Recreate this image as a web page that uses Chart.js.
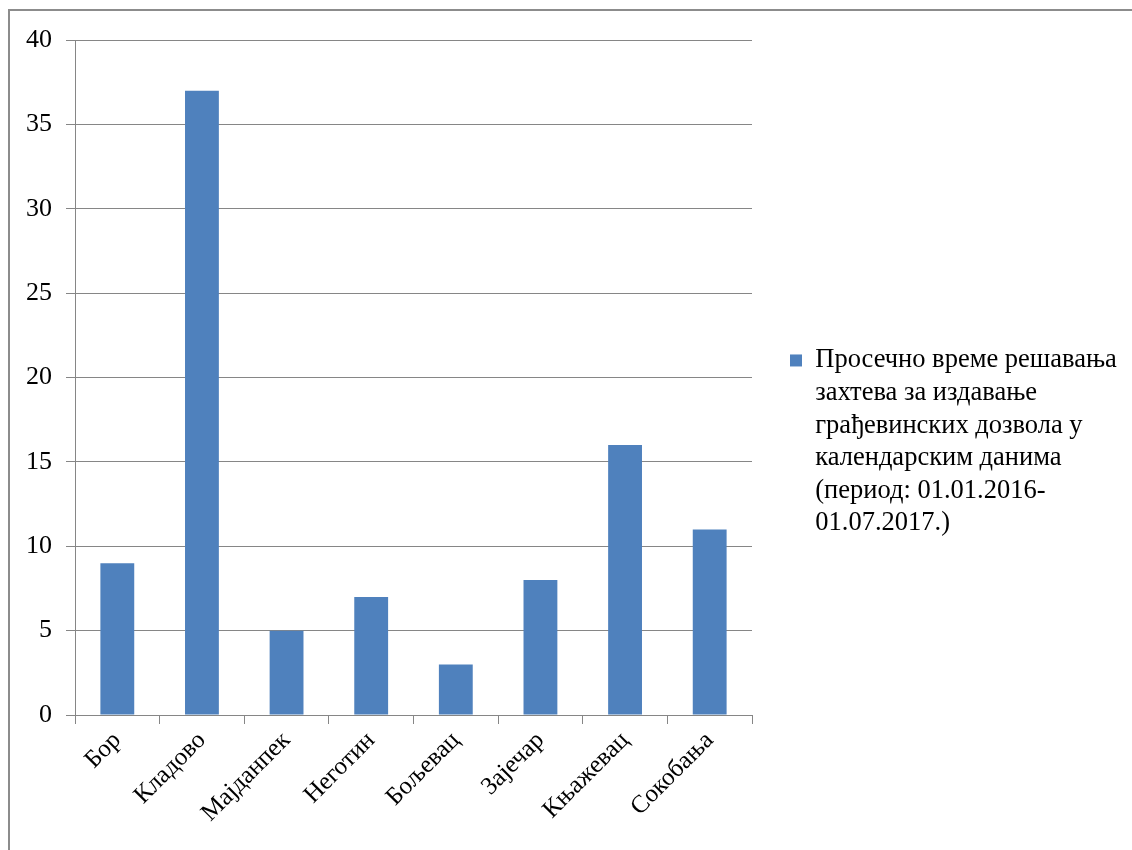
<!DOCTYPE html>
<html>
<head>
<meta charset="utf-8">
<script src="https://cdn.jsdelivr.net/npm/chart.js@4/dist/chart.umd.min.js"></script>
<style>
  html, body { margin: 0; padding: 0; background: #fff; overflow: hidden; }
  #frame {
    position: absolute; left: 8px; top: 9px; width: 1160px; height: 880px;
    border: 2px solid #8c8c8c;
  }
  #wrap { position: absolute; left: 0; top: 0; width: 1132px; height: 850px; }
</style>
</head>
<body>
<div id="frame"></div>
<div id="wrap"><canvas id="chart1"></canvas></div>
<script>
var cities = ["Бор", "Кладово", "Мајданпек", "Неготин", "Бољевац", "Зајечар", "Књажевац", "Сокобања"];
var avgDays = [9, 37, 5, 7, 3, 8, 16, 11];
var seriesName = "Просечно време решавања захтева за издавање грађевинских дозвола у календарским данима (период: 01.01.2016-01.07.2017.)";
var legendLines = [
    "Просечно време решавања",
    "захтева за издавање",
    "грађевинских дозвола у",
    "календарским данима",
    "(период: 01.01.2016-",
    "01.07.2017.)"
];
var yTicks = [0, 5, 10, 15, 20, 25, 30, 35, 40];

Chart.defaults.font.family = "'Liberation Serif', 'Times New Roman', serif";
Chart.defaults.color = "#000";

// keep the legend column a fixed width so the plot ends where the original does
var legendWidth = {
    id: 'legendWidth',
    beforeLayout: function (chart) {
        var lg = chart.legend;
        if (lg && !lg._fixedWidth) {
            var fit = lg.fit;
            lg.fit = function () {
                fit.call(this);
                this.width = 380;
            };
            lg._fixedWidth = true;
        }
    }
};

window.onload = function () {
    var ctx = document.getElementById('chart1').getContext('2d');
    window.theChart = new Chart(ctx, {
        type: 'bar',
        data: {
            labels: cities,
            datasets: [{
                label: seriesName,
                data: avgDays,
                backgroundColor: "#4f81bd",
                borderWidth: 0,
                categoryPercentage: 1,
                barPercentage: 0.4
            }]
        },
        plugins: [legendWidth],
        options: {
            responsive: true,
            maintainAspectRatio: false,
            animation: false,
            layout: { padding: { top: 40, left: 0, right: 0, bottom: 0 } },
            plugins: {
                tooltip: { enabled: false },
                legend: {
                    position: 'right',
                    align: 'center',
                    labels: {
                        boxWidth: 12,
                        boxHeight: 12,
                        padding: 38,
                        font: { size: 26.5, lineHeight: 1.23 },
                        generateLabels: function (chart) {
                            var ds = chart.data.datasets[0];
                            return [{
                                text: legendLines,
                                fillStyle: ds.backgroundColor,
                                strokeStyle: ds.backgroundColor,
                                lineWidth: 0,
                                hidden: false,
                                datasetIndex: 0
                            }];
                        }
                    }
                }
            },
            scales: {
                x: {
                    grid: {
                        drawOnChartArea: false,
                        drawTicks: true,
                        tickLength: 9,
                        color: "#868686"
                    },
                    border: { color: "#868686" },
                    ticks: {
                        minRotation: 45,
                        maxRotation: 45,
                        padding: 2,
                        font: { size: 25 }
                    },
                    afterFit: function (scale) { scale.height = 135; }
                },
                y: {
                    min: 0,
                    max: 40,
                    afterBuildTicks: function (scale) {
                        scale.ticks = yTicks.map(function (v) { return { value: v }; });
                    },
                    grid: {
                        color: "#868686",
                        tickLength: 9,
                        drawTicks: true
                    },
                    border: { color: "#868686" },
                    ticks: {
                        padding: 14,
                        font: { size: 26 }
                    },
                    afterFit: function (scale) { scale.width = 75; }
                }
            }
        }
    });
};
</script>
</body>
</html>
